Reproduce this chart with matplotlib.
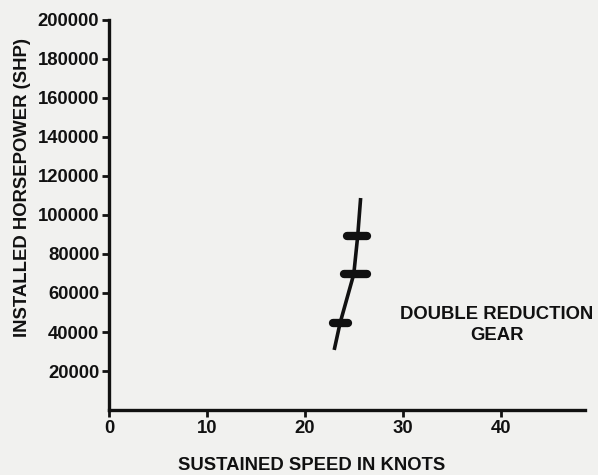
import matplotlib.pyplot as plt

# curve
speed = [23.0, 23.6, 25.0, 25.4, 25.7]
shp = [30800, 44600, 69700, 89200, 108700]

# short bars across the curve: level, left end, right end
bar_shp = [44600, 69700, 89200]
bar_lo = [22.9, 24.0, 24.3]
bar_hi = [24.4, 26.4, 26.3]

yticks = [20000, 40000, 60000, 80000, 100000, 120000, 140000, 160000, 180000, 200000]
xticks = [0, 10, 20, 30, 40]

plt.rcParams['font.family'] = ['Liberation Sans', 'DejaVu Sans']
plt.rcParams['font.weight'] = 'bold'

bg = '#f1f1ef'
ink = '#111111'
fs = 13.3

fig = plt.figure(figsize=(5.98, 4.75), dpi=100, facecolor=bg)
ax = fig.add_axes([0.1823, 0.1368, 0.7957, 0.8212], facecolor=bg)

ax.plot(speed, shp, color=ink, lw=2.6, solid_capstyle='butt')
ax.hlines(bar_shp, bar_lo, bar_hi, color=ink, lw=6, capstyle='round')

ax.text(39.6, 43600, 'DOUBLE REDUCTION\nGEAR', ha='center', va='center',
        fontsize=fs, fontweight='bold', color=ink, linespacing=1.3)

ax.set_xlim(0, 48.6)
ax.set_ylim(0, 200000)
ax.set_xticks(xticks)
ax.set_yticks(yticks)
ax.set_xticklabels([str(v) for v in xticks])
ax.set_yticklabels([str(v) for v in yticks])

for s in ['top', 'right']:
    ax.spines[s].set_visible(False)
for s in ['left', 'bottom']:
    ax.spines[s].set_linewidth(2.4)
    ax.spines[s].set_color(ink)

ax.tick_params(axis='both', direction='out', length=5, width=2, color=ink,
               labelsize=fs, labelcolor=ink, pad=2)

ax.set_ylabel('INSTALLED HORSEPOWER (SHP)', fontsize=fs, fontweight='bold', color=ink)
ax.yaxis.set_label_coords(-0.165, 0.57)
fig.text(312 / 598, 1 - 465 / 475, 'SUSTAINED SPEED IN KNOTS', ha='center', va='center',
         fontsize=fs, fontweight='bold', color=ink)

fig.savefig('out.png', dpi=100, facecolor=bg)
